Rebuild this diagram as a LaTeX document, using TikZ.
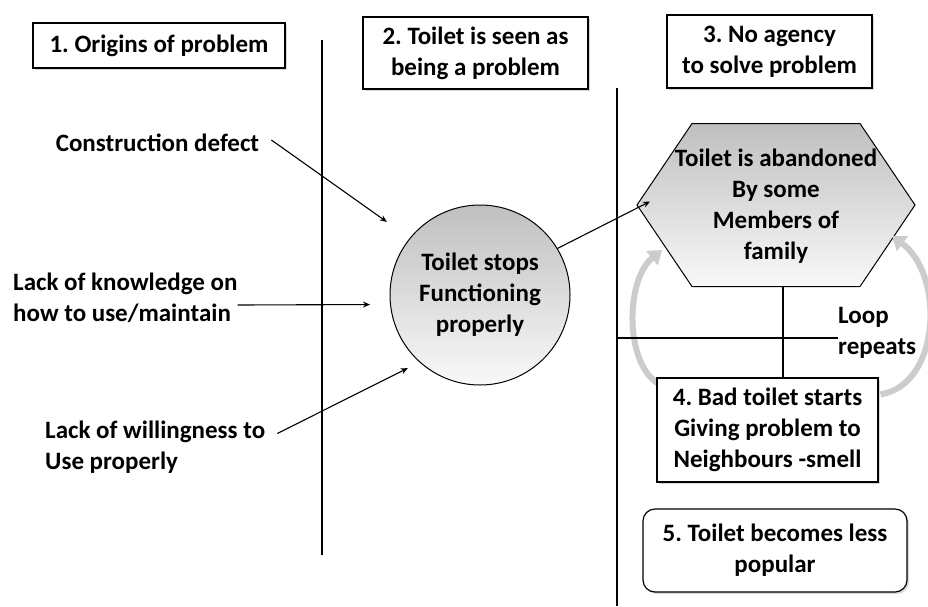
\documentclass[tikz,border=0pt]{standalone}
\usepackage{fontspec}
\setmainfont{Carlito}
\usetikzlibrary{arrows.meta,positioning,shadows,calc,backgrounds}
\frenchspacing

\begin{document}
\begin{tikzpicture}[x=1pt, y=-1pt,
  txt/.style={font=\fontsize{25}{31}\selectfont\bfseries, inner sep=0pt},
  stage/.style={draw, line width=1.2pt, fill=white, align=center, txt,
    drop shadow={shadow xshift=2pt, shadow yshift=-2pt, opacity=0.3}},
  cause/.style={txt, align=left, anchor=west},
  hexa/.style={draw, line width=1pt, top color=gray!50, bottom color=gray!5},
  flow/.style={-{Stealth[length=7pt, width=6pt]}, line width=1.1pt},
  looparc/.style={-{Triangle[length=13pt, width=18pt]}, line width=6pt, draw=gray!40},
  divider/.style={line width=1.2pt}]
\useasboundingbox (0,0) rectangle (928,606);

% stage headings
\node[stage, minimum width=252pt, minimum height=45pt] (orig) at (159,45.5) {1. Origins of problem};
\node[stage, minimum width=225pt, minimum height=72pt] (seen) at (475.5,53) {2. Toilet is seen as\\being a problem};
\node[stage, minimum width=205pt, minimum height=73pt] (agency) at (769.5,51.5) {3. No agency\\to solve problem};

\draw[divider] (322,40) -- (322,555);
\draw[divider] (617,88) -- (617,606);
\draw[divider] (617,338) -- (838,338);

% origins
\node[txt] (cons) at (157.5,143) {Construction defect};
\node[cause] (know) at (13,298) {Lack of knowledge on\\how to use/maintain};
\node[cause] (will) at (45,447.5) {Lack of willingness to\\Use properly};

\node[circle, draw, line width=1pt, minimum size=180pt, top color=gray!50, bottom color=gray!5,
  txt, align=center] (stops) at (480,295) {Toilet stops\\Functioning\\properly};

\node[txt, align=center] (aband) at (776,206.5) {Toilet is abandoned\\By some\\Members of\\family};

\node[stage, minimum width=221pt, minimum height=104pt] (bad) at (767.5,430) {4. Bad toilet starts\\Giving problem to\\Neighbours -smell};
\node[stage, rounded corners=12pt, minimum width=264pt, minimum height=83pt] (less) at (775,550.5) {5. Toilet becomes less\\popular};
\node[cause] (rep) at (838,332.5) {Loop\\repeats};

\draw[flow, shorten >=28pt] ($(cons.east)+(12,-3)$) -- (stops.141);
\draw[flow, shorten >=20pt] ($(know.east)+(0,7)$) -- (stops.186);
\draw[flow, shorten >=13pt] ($(will.east)+(12,-14)$) -- (stops.228);
\draw[flow] (stops.31) -- ($(aband.center)+(-126,-5)$);

\coordinate (vt) at ($(aband.center)+(7,80.5)$);
\draw[divider] (vt) -- (vt |- bad.north);

\begin{scope}[on background layer]
\fill[white] (0,0) rectangle (928,606);
\path[hexa] ($(aband.center)+(-139,-1.5)$) -- ++(55,-81.5) -- ++(168,0) -- ++(55,81.5)
  -- ++(-55,81.5) -- ++(-168,0) -- cycle;
\draw[looparc] ($(bad.north west)+(3,7)$) .. controls +(-35,-20) and +(-37,30) .. ($(aband.center)+(-114,43.5)$);
\draw[looparc] ($(bad.north east)+(2,17)$) .. controls +(60,-10) and +(53,39) .. ($(aband.center)+(116,29.5)$);
\end{scope}
\end{tikzpicture}
\end{document}
